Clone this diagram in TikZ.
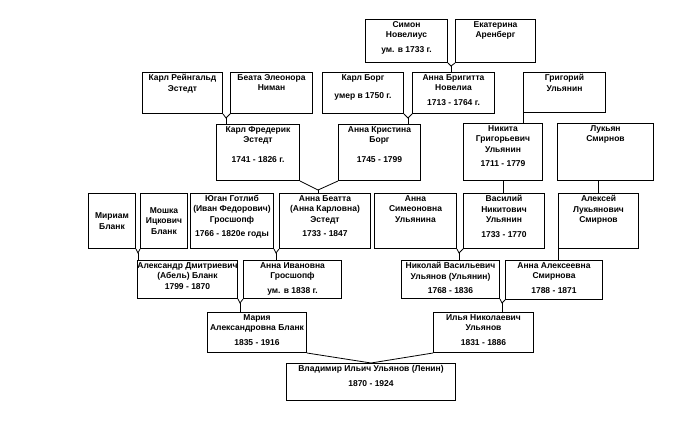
\documentclass[tikz,border=0pt]{standalone}
\usepackage{fontspec}
\setmainfont{Liberation Sans}

\begin{document}
\begin{tikzpicture}[x=1pt, y=-1pt,
    person/.style={rectangle, draw, line width=1pt, anchor=north west, inner sep=0pt, align=center,
      font=\fontsize{8.5}{10.5}\selectfont\bfseries},
    txt/.style={anchor=north, align=center, inner sep=2pt, font=\fontsize{8.5}{10.5}\selectfont\bfseries},
    link/.style={line width=0.8pt}]
    \useasboundingbox (0,0) rectangle (699,439);

    % top rows
    \node[person, minimum width=82pt, minimum height=43pt, label={[txt]north:{Симон\\Новелиус\\[4pt]ум. в 1733 г.}}] (Simon) at (365,19) {};
    \node[person, minimum width=80pt, minimum height=43pt, label={[txt]north:{Екатерина\\Аренберг}}] (Ekaterina) at (455,19) {};

    \node[person, minimum width=80pt, minimum height=41pt, label={[txt]north:{Карл Рейнгальд\\Эстедт}}] (KarlR) at (142,72) {};
    \node[person, minimum width=82pt, minimum height=41pt, label={[txt]north:{Беата Элеонора\\Ниман}}] (Beata) at (230,72) {};
    \node[person, minimum width=81pt, minimum height=41pt, label={[txt]north:{Карл Борг\\[8pt]умер в 1750 г.}}] (KarlB) at (322,72) {};
    \node[person, minimum width=82pt, minimum height=41pt, label={[txt]north:{Анна Бригитта\\Новелиа\\[4pt]1713 - 1764 г.}}] (Brigitta) at (412,72) {};
    \node[person, minimum width=82pt, minimum height=40pt, label={[txt]north:{Григорий\\Ульянин}}] (Grigory) at (523,72) {};

    \node[person, minimum width=83pt, minimum height=56pt, label={[txt]north:{Карл Фредерик\\Эстедт\\[9pt]1741 - 1826 г.}}] (KarlF) at (216,124) {};
    \node[person, minimum width=82pt, minimum height=56pt, label={[txt]north:{Анна Кристина\\Борг\\[9pt]1745 - 1799}}] (AnnaK) at (338,124) {};
    \node[person, minimum width=79pt, minimum height=57pt, label={[txt]north:{Никита\\Григорьевич\\Ульянин\\[4pt]1711 - 1779}}] (Nikita) at (463,123) {};
    \node[person, minimum width=96pt, minimum height=57pt, label={[txt]north:{Лукьян\\Смирнов}}] (Lukyan) at (557,123) {};

    % middle row
    \node[person, minimum width=47pt, minimum height=55pt] (Miriam) at (88,193) {Мириам\\Бланк};
    \node[person, minimum width=47pt, minimum height=55pt] (Moshka) at (140,193) {Мошка\\Ицкович\\Бланк};
    \node[person, minimum width=83pt, minimum height=55pt, label={[txt]north:{Юган Готлиб\\(Иван Федорович)\\Гросшопф\\[4pt]1766 - 1820е годы}}] (Yugan) at (190,193) {};
    \node[person, minimum width=91pt, minimum height=55pt, label={[txt]north:{Анна Беатта\\(Анна Карловна)\\Эстедт\\[4pt]1733 - 1847}}] (AnnaB) at (279,193) {};
    \node[person, minimum width=82pt, minimum height=55pt, label={[txt]north:{Анна\\Симеоновна\\Ульянина}}] (AnnaS) at (374,193) {};
    \node[person, minimum width=81pt, minimum height=55pt, label={[txt]north:{Василий\\Никитович\\Ульянин\\[4pt]1733 - 1770}}] (Vasily) at (463,193) {};
    \node[person, minimum width=80pt, minimum height=55pt, label={[txt]north:{Алексей\\Лукьянович\\Смирнов}}] (Aleksey) at (558,193) {};

    % lower rows
    \node[person, minimum width=100pt, minimum height=38pt, label={[txt]north:{Александр Дмитриевич\\(Абель) Бланк\\1799 - 1870}}] (Aleksandr) at (137,260) {};
    \node[person, minimum width=98pt, minimum height=38pt, label={[txt]north:{Анна Ивановна\\Гросшопф\\[4pt]ум. в 1838 г.}}] (AnnaI) at (243,260) {};
    \node[person, minimum width=98pt, minimum height=38pt, label={[txt]north:{Николай Васильевич\\Ульянов (Ульянин)\\[4pt]1768 - 1836}}] (Nikolay) at (401,260) {};
    \node[person, minimum width=97pt, minimum height=39pt, label={[txt]north:{Анна Алексеевна\\Смирнова\\[4pt]1788 - 1871}}] (AnnaA) at (505,260) {};

    \node[person, minimum width=99pt, minimum height=40pt, label={[txt]north:{Мария\\Александровна Бланк\\[4pt]1835 - 1916}}] (Maria) at (207,312) {};
    \node[person, minimum width=100pt, minimum height=40pt, label={[txt]north:{Илья Николаевич\\Ульянов\\[4pt]1831 - 1886}}] (Ilya) at (433,312) {};

    \node[person, minimum width=169pt, minimum height=37pt, label={[txt]north:{Владимир Ильич Ульянов (Ленин)\\[5pt]1870 - 1924}}] (Vladimir) at (286,363) {};

    % junctions below each pair of parents
    \coordinate (jBrigitta) at (451,66);
    \coordinate (jKarlF) at (226,118);
    \coordinate (jAnnaK) at (408,118);
    \coordinate (jAnnaB) at (318,190);
    \coordinate (jAleksandr) at (138,253);
    \coordinate (jAnnaI) at (276,253);
    \coordinate (jNikolay) at (459,253);
    \coordinate (jMaria) at (240,303);
    \coordinate (jIlya) at (502,303);

    \draw[link] (Simon.south east) -- (jBrigitta) -- (Ekaterina.south west);
    \draw[link] (jBrigitta) -- (jBrigitta |- Brigitta.north);
    \draw[link] (KarlR.south east) -- (jKarlF) -- (Beata.south west);
    \draw[link] (jKarlF) -- (jKarlF |- KarlF.north);
    \draw[link] (KarlB.south east) -- (jAnnaK) -- (Brigitta.south west);
    \draw[link] (jAnnaK) -- (jAnnaK |- AnnaK.north);
    \draw[link] (Grigory.south west) -- (Grigory.south west |- Nikita.north);
    \draw[link] (KarlF.south east) -- (jAnnaB) -- (AnnaK.south west);
    \draw[link] (jAnnaB) -- (jAnnaB |- AnnaB.north);
    \draw[link] (Nikita.south) -- (Nikita.south |- Vasily.north);
    \draw[link] (Aleksey.north) -- (Aleksey.north |- Lukyan.south);
    \draw[link] (Miriam.south east) -- (jAleksandr) -- (Moshka.south west);
    \draw[link] (jAleksandr) -- (jAleksandr |- Aleksandr.north);
    \draw[link] (Yugan.south east) -- (jAnnaI) -- (AnnaB.south west);
    \draw[link] (jAnnaI) -- (jAnnaI |- AnnaI.north);
    \draw[link] (AnnaS.south east) -- (jNikolay) -- (Vasily.south west);
    \draw[link] (jNikolay) -- (jNikolay |- Nikolay.north);
    \draw[link] (Aleksey.south west) -- (Aleksey.south west |- AnnaA.north);
    \draw[link] (Aleksandr.south east) -- (jMaria) -- (AnnaI.south west);
    \draw[link] (jMaria) -- (jMaria |- Maria.north);
    \draw[link] (Nikolay.south east) -- (jIlya) -- (AnnaA.south west);
    \draw[link] (jIlya) -- (jIlya |- Ilya.north);
    \draw[link] (Maria.south east) -- (Vladimir.north) -- (Ilya.south west);
\end{tikzpicture}
\end{document}
